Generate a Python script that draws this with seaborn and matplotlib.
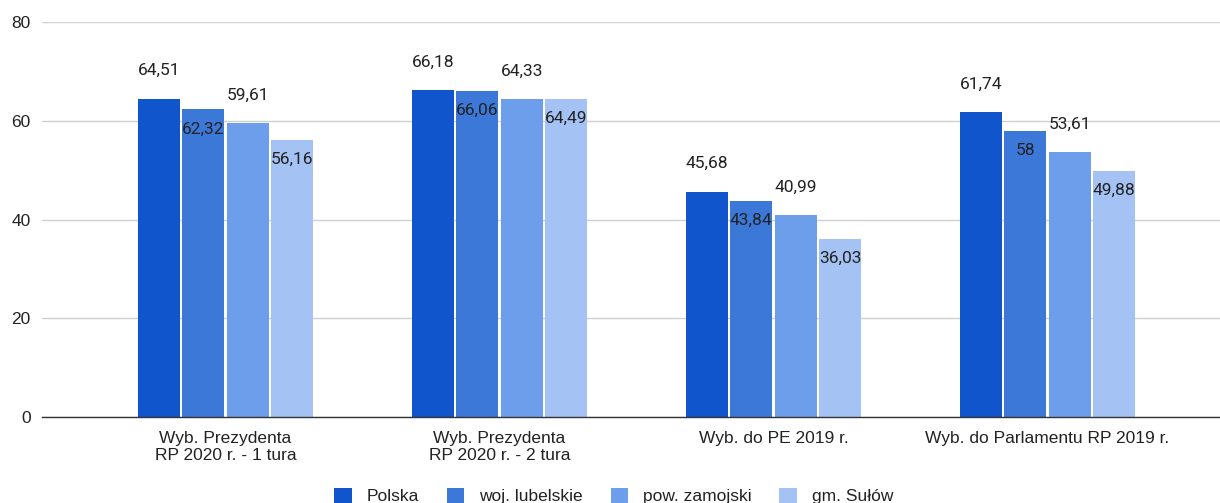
import numpy as np
import pandas as pd
import matplotlib as mpl
import matplotlib.pyplot as plt
from matplotlib.patches import Patch
import seaborn as sns

# -----------------------
# data
# -----------------------
categories = [
    "Wyb. Prezydenta\nRP 2020 r. - 1 tura",
    "Wyb. Prezydenta\nRP 2020 r. - 2 tura",
    "Wyb. do PE 2019 r.",
    "Wyb. do Parlamentu RP 2019 r.",
]
series = ["Polska", "woj. lubelskie", "pow. zamojski", "gm. Sułów"]
polska = [64.51, 66.18, 45.68, 61.74]
lubelskie = [62.32, 66.06, 43.84, 58.00]
zamojski = [59.61, 64.33, 40.99, 53.61]
sulow = [56.16, 64.49, 36.03, 49.88]
colors = ["#1155cc", "#3c78d8", "#6d9eeb", "#a4c2f4"]

values = [polska, lubelskie, zamojski, sulow]
rows = []
for s, vals in zip(series, values):
    for c, v in zip(categories, vals):
        rows.append({"kategoria": c, "seria": s, "wartosc": v})
df = pd.DataFrame(rows)


def fmt(v):
    # polski przecinek dziesiętny, bez zbędnych zer
    txt = f"{v:.2f}".rstrip("0").rstrip(".")
    return txt.replace(".", ",")


sns.set_theme(style="white")
mpl.rcParams["font.family"] = ["Liberation Sans", "DejaVu Sans"]

fig = plt.figure(figsize=(12.2, 5.03), dpi=100)
ax = fig.add_axes([0.0344, 0.171, 0.9656, 0.785])

sns.barplot(
    data=df, x="kategoria", y="wartosc", hue="seria",
    palette=colors, width=0.65, gap=0.06, ax=ax,
    legend=False, saturation=1, edgecolor="none",
)

ax.set_ylim(0, 80)
ax.set_xlim(-0.67, 3.63)
ax.set_yticks([0, 20, 40, 60, 80])
ax.yaxis.grid(True, color="#d0d0d0", linewidth=1)
ax.set_axisbelow(True)
for side in ["top", "right", "left"]:
    ax.spines[side].set_visible(False)
ax.spines["bottom"].set_color("#333333")
ax.spines["bottom"].set_linewidth(1)
ax.tick_params(axis="both", length=0, labelsize=12.5, colors="#222222")
ax.tick_params(axis="y", pad=8)
ax.tick_params(axis="x", pad=10)
ax.set_xlabel("")
ax.set_ylabel("")

# etykiety danych: na przemian nad słupkiem i pod jego szczytem
for i, cont in enumerate(ax.containers):
    for bar in cont:
        h = bar.get_height()
        x = bar.get_x() + bar.get_width() / 2
        dy = 20 if i % 2 == 0 else -14
        ax.annotate(fmt(h), (x, h), xytext=(0, dy), textcoords="offset points",
                    ha="center", va="center", fontsize=12.5, color="#222222",
                    family=["Roboto", "DejaVu Sans"])

handles = [Patch(facecolor=c, edgecolor="none") for c in colors]
fig.legend(handles, series, loc="center", bbox_to_anchor=(0.503, 0.014),
           ncol=4, frameon=False, fontsize=12.5, handlelength=1.0,
           handleheight=1.0, columnspacing=1.6, handletextpad=0.86,
           labelcolor="#222222")

fig.savefig("out.png", dpi=100)
